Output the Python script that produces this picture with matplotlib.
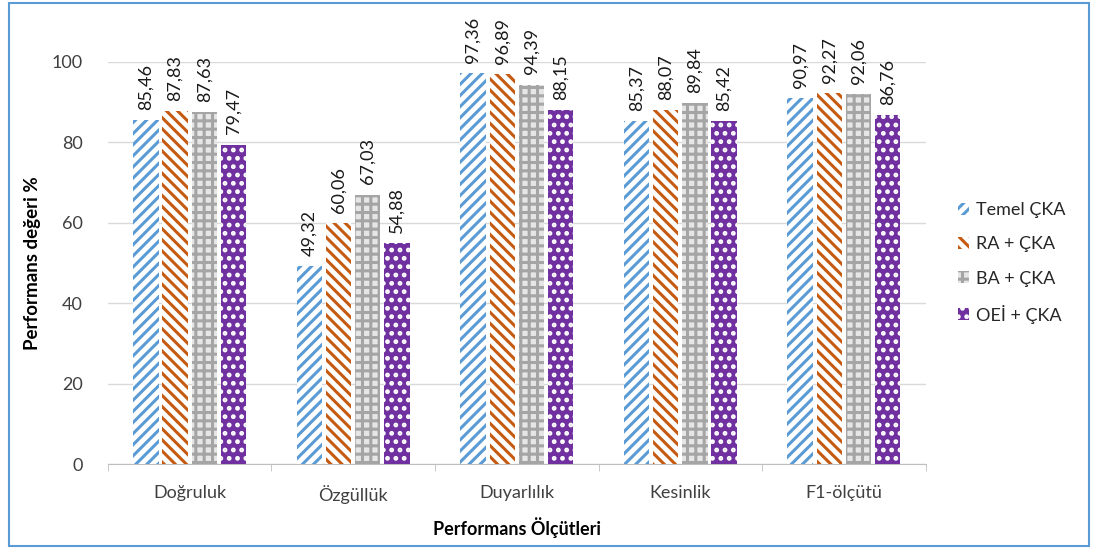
import numpy as np
import matplotlib
matplotlib.use('Agg')
import matplotlib.pyplot as plt
from matplotlib.patches import Rectangle

plt.rcParams['font.family'] = ['Lato', 'DejaVu Sans']
plt.rcParams['hatch.linewidth'] = 2.2

# veriler
categories = ['Doğruluk', 'Özgüllük', 'Duyarlılık', 'Kesinlik', 'F1-ölçütü']
series_names = ['Temel ÇKA', 'RA + ÇKA', 'BA + ÇKA', 'OEİ + ÇKA']
temel = [85.46, 49.32, 97.36, 85.37, 90.97]
ra = [87.83, 60.06, 96.89, 88.07, 92.27]
ba = [87.63, 67.03, 94.39, 89.84, 92.06]
oei = [79.47, 54.88, 88.15, 85.42, 86.76]

values = [temel, ra, ba, oei]
# (yüz rengi, tarama rengi, tarama deseni)
styles = [('white', '#5b9bd5', '///'),
          ('white', '#c55a11', '\\\\\\'),
          ('#e6e6e6', '#a5a5a5', '++'),
          ('#7030a0', 'white', '..')]

fig = plt.figure(figsize=(10.96, 5.52), dpi=100)
ax = fig.add_axes([0.0985, 0.1594, 0.746, 0.7283])

x = np.arange(len(categories))
w = 0.155
step = 0.178
for i, (vals, (fc, hc, hatch)) in enumerate(zip(values, styles)):
    pos = x + (i - 1.5) * step
    ax.bar(pos, vals, w, color=fc, edgecolor=hc, hatch=hatch, linewidth=0,
           label=series_names[i], zorder=3)
    for p, v in zip(pos, vals):
        ax.text(p, v + 2.5, f'{v:.2f}'.replace('.', ','), rotation=90,
                ha='center', va='bottom', fontsize=13, color='#1a1a1a',
                clip_on=False)

ax.set_ylim(0, 100)
ax.set_xlim(-0.5, len(categories) - 0.5)
ax.set_yticks(range(0, 101, 20))
ax.yaxis.grid(True, color='#d9d9d9', linewidth=1, zorder=0)
ax.tick_params(axis='y', length=0, labelsize=13, colors='#404040', pad=18)
ax.set_xticks(x)
ax.set_xticklabels(categories)
ax.tick_params(axis='x', length=0, labelsize=13, colors='#404040', pad=15)
ax.set_xticks(np.arange(-0.5, len(categories)), minor=True)
ax.tick_params(axis='x', which='minor', length=5, color='#bfbfbf')
for s in ['top', 'right', 'left']:
    ax.spines[s].set_visible(False)
ax.spines['bottom'].set_color('#bfbfbf')

ax.set_ylabel('Performans değeri %', fontsize=13.5, fontweight='bold', labelpad=8)
ax.set_xlabel('Performans Ölçütleri', fontsize=13, fontweight='bold', labelpad=10)

leg = ax.legend(loc='center left', bbox_to_anchor=(1.02, 0.5), frameon=False,
                fontsize=13, labelspacing=1.0, handlelength=0.6, handleheight=0.6,
                handletextpad=0.4, labelcolor='#262626')

# çerçeve
fig.patches.append(Rectangle((0.008, 0.01), 0.986, 0.985, transform=fig.transFigure,
                             fill=False, edgecolor='#5b9bd5', linewidth=1.5))

fig.savefig('out.png', dpi=100)
